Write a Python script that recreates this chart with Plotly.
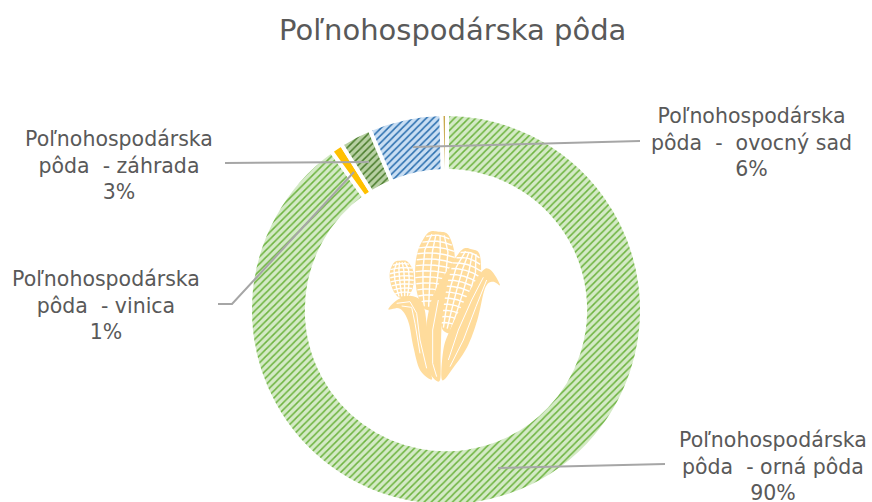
import plotly.graph_objects as go
import math

W, H = 872, 510
title = "Poľnohospodárska pôda"
categories = ["Poľnohospodárska pôda - orná pôda", "Poľnohospodárska pôda - vinica",
              "Poľnohospodárska pôda - záhrada", "Poľnohospodárska pôda - ovocný sad", "Poľnohospodárska pôda - iné"]
values = [90.0, 1.0, 2.6, 6.0, 0.45]
bg_colors = ["#d4eac6", "#ffc000", "#b7d0a2", "#c9deF3", "#c8a84b"]
fg_colors = ["#6db33f", "#ffc000", "#4a7c2c", "#2a6eae", "#c8a84b"]
shapes_p = ["/", "", "/", "/", ""]
label_texts = ["Poľnohospodárska<br>pôda  - orná pôda<br>90%", "Poľnohospodárska<br>pôda  - vinica<br>1%",
               "Poľnohospodárska<br>pôda  - záhrada<br>3%", "Poľnohospodárska<br>pôda  -  ovocný sad<br>6%"]
label_pos = [(773, 466), (106, 305), (119, 166), (751, 142)]
leaders = [[(498, 468), (665, 464)], [(218, 304), (232, 304), (354, 172)],
           [(225, 163), (369, 162)], [(413, 147), (640, 141)]]
FONT = "DejaVu Sans"
TXT = "#595959"

def px(x, y): return x / W, 1 - y / H

def path(pts, close=True):
    s = ""
    for i, (x, y) in enumerate(pts):
        a, b = px(370 + x / 3, 220 + y / 3)
        s += ("M" if i == 0 else "L") + f"{a:.5f},{b:.5f}"
    return s + ("Z" if close else "")

def smooth(pts, n=8):
    out = []
    m = len(pts)
    for i in range(m):
        p0, p1, p2, p3 = pts[i - 1], pts[i], pts[(i + 1) % m], pts[(i + 2) % m]
        for k in range(n):
            t = k / n
            out.append(tuple(0.5 * (2 * p1[j] + (p2[j] - p0[j]) * t + (2 * p0[j] - 5 * p1[j] + 4 * p2[j] - p3[j]) * t * t
                                    + (3 * p1[j] - p0[j] - 3 * p2[j] + p3[j]) * t ** 3) for j in (0, 1)))
    return out

CORN = "#ffdc9c"
shapes = []
def fill(pts, color=CORN, sm=True):
    shapes.append(dict(type="path", xref="paper", yref="paper", path=path(smooth(pts) if sm else pts),
                       fillcolor=color, line=dict(width=0), layer="above"))
def stroke(pts, w=1.4, color="white"):
    shapes.append(dict(type="path", xref="paper", yref="paper", path=path(pts, False),
                       line=dict(color=color, width=w), layer="above"))

def cob(tip, base, halfw, rows, cols):
    dx, dy = base[0] - tip[0], base[1] - tip[1]
    L = math.hypot(dx, dy); ux, uy = dx / L, dy / L; nx, ny = -uy, ux
    prof = lambda t: halfw * min(1, 0.45 + 2.2 * t) * (1 - 0.45 * max(0, t - 0.6) / 0.4)
    P = lambda t, s: (tip[0] + dx * t + nx * s * prof(t), tip[1] + dy * t + ny * s * prof(t))
    outline = [P(0, 0)] + [P(t / 6 + 0.02, 1) for t in range(6)] + [P(1, 0.6), P(1, -0.6)] + [P(1.02 - t / 6, -1) for t in range(1, 7)]
    fill(outline)
    for r in range(1, rows):
        t = r / rows
        stroke([P(t - 0.03 * (1 - s * s), s * 0.97) for s in [-1, -.5, 0, .5, 1]])
    for c in range(1, cols):
        s = -1 + 2 * c / cols
        stroke([P(t, s) for t in [0.04, .25, .5, .75, .97]])

cob((92, 122), (100, 232), 36, 9, 5)
cob((205, 35), (182, 268), 58, 13, 5)
cob((305, 88), (235, 335), 50, 14, 5)

fill([(55, 268), (85, 238), (125, 228), (158, 250), (170, 320), (170, 420), (186, 478), (150, 450), (130, 380), (115, 305), (90, 266)])
fill([(243, 140), (190, 225), (166, 340), (170, 440), (208, 484), (212, 400), (216, 300), (230, 200)])
fill([(390, 195), (362, 150), (335, 155), (290, 230), (240, 330), (220, 390), (216, 480), (252, 440), (292, 380), (322, 300), (345, 205), (368, 185)])
stroke([(80, 250), (120, 245), (140, 280), (150, 360), (170, 445)], 1)
stroke([(95, 258), (125, 262), (135, 310), (150, 400)], 1)
stroke([(205, 240), (188, 330), (188, 430), (200, 470)], 1)
stroke([(340, 172), (305, 240), (265, 330), (235, 420)], 1)
stroke([(350, 180), (318, 260), (280, 360), (240, 440)], 1)

for line in leaders:
    pts = [px(*p) for p in line]
    d = "M" + "L".join(f"{a:.5f},{b:.5f}" for a, b in pts)
    shapes.append(dict(type="path", xref="paper", yref="paper", path=d, line=dict(color="#a6a6a6", width=2), layer="above"))

fig = go.Figure(go.Pie(
    labels=categories, values=values, hole=0.71, sort=False, direction="clockwise", rotation=0.3,
    textinfo="none", hoverinfo="label+percent", showlegend=False,
    domain=dict(x=[250 / W, 642 / W], y=[1 - 506 / H, 1 - 114 / H]),
    marker=dict(colors=bg_colors, line=dict(color="white", width=4),
                pattern=dict(shape=shapes_p, fgcolor=fg_colors, bgcolor=bg_colors, size=5, solidity=0.3)),
))
ann = [dict(x=px(*p)[0], y=px(*p)[1], xref="paper", yref="paper", text=t, showarrow=False, align="center",
            xanchor="center", yanchor="middle", font=dict(family=FONT, size=20.5, color=TXT))
       for t, p in zip(label_texts, label_pos)]
ann.append(dict(x=px(452, 30)[0], y=px(452, 30)[1], xref="paper", yref="paper", text=title, showarrow=False,
                xanchor="center", yanchor="middle", font=dict(family=FONT, size=29, color=TXT)))
fig.update_layout(width=W, height=H, margin=dict(l=0, r=0, t=0, b=0), paper_bgcolor="white",
                  shapes=shapes, annotations=ann, showlegend=False)
fig.write_html("out.html", config=dict(displayModeBar=False),
               post_script="document.body.style.margin='0';document.body.style.overflow='hidden';document.documentElement.style.overflow='hidden';")
